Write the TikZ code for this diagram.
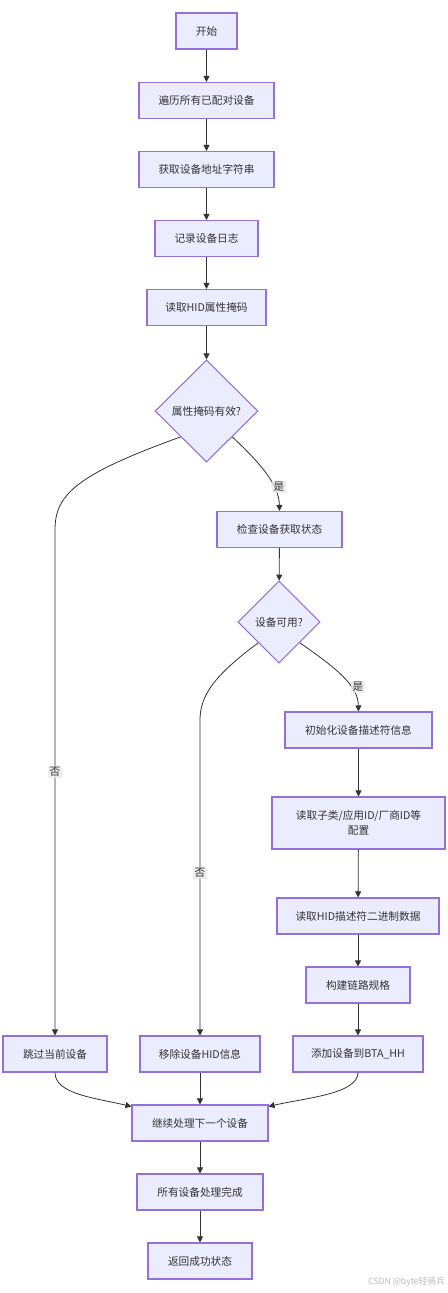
\documentclass[tikz,border=0pt]{standalone}
\usepackage{fontspec}
\setmainfont{Noto Sans CJK SC}
\usetikzlibrary{shapes.geometric,arrows.meta}
\definecolor{boxfill}{HTML}{ECECFF}
\definecolor{boxline}{HTML}{9370DB}
\definecolor{txt}{HTML}{333333}
\definecolor{edge}{HTML}{333333}
\definecolor{lblbg}{HTML}{E8E8E8}
\definecolor{wm}{HTML}{BBBBBB}
\tikzset{
  box/.style={draw=boxline, fill=boxfill, line width=0.8pt, text=txt, font=\fontsize{8}{11.5}\selectfont,
    minimum height={36*0.75pt}, inner sep=0pt, align=center},
  dia/.style={diamond, draw=boxline, fill=boxfill, line width=0.8pt, text=txt, font=\fontsize{8}{10}\selectfont,
    inner sep=0pt, aspect=1},
  conn/.style={draw=edge, line width=0.6pt, -{Triangle[length=4.5pt,width=4.5pt]}},
  lbl/.style={fill=lblbg, fill opacity=0.8, text opacity=1, text=txt, inner sep=1pt, font=\fontsize{8}{10}\selectfont}
}
\begin{document}
\begin{tikzpicture}[x=0.75pt,y=-0.75pt]
\useasboundingbox (0,0) rectangle (448,1293);
% nodes
\node[box, minimum width={61*0.75pt}] (start) at (206.5,31) {开始};
\node[box, minimum width={135*0.75pt}] (iter) at (206.5,100.5) {遍历所有已配对设备};
\node[box, minimum width={135*0.75pt}] (addr) at (206.5,169.5) {获取设备地址字符串};
\node[box, minimum width={103*0.75pt}] (log) at (206.5,238.5) {记录设备日志};
\node[box, minimum width={119*0.75pt}] (mask) at (206.5,307.5) {读取HID属性掩码};
\node[dia, minimum width={103*0.75pt}, minimum height={102*0.75pt}] (d1) at (206.5,411) {属性掩码有效?};
\node[box, minimum width={125*0.75pt}] (check) at (279.5,529.5) {检查设备获取状态};
\node[dia, minimum width={82*0.75pt}, minimum height={82*0.75pt}] (d2) at (279,622) {设备可用?};
\node[box, minimum width={147*0.75pt}] (init) at (358.5,730) {初始化设备描述符信息};
\node[box, minimum width={173*0.75pt}, minimum height={52*0.75pt}] (cfg) at (358.5,823) {读取子类/应用ID/厂商ID等\\配置};
\node[box, minimum width={162*0.75pt}] (desc) at (358,916) {读取HID描述符二进制数据};
\node[box, minimum width={104*0.75pt}] (link) at (358,985) {构建链路规格};
\node[box, minimum width={130*0.75pt}] (add) at (358,1054) {添加设备到BTA\_HH};
\node[box, minimum width={104*0.75pt}] (skip) at (55,1054) {跳过当前设备};
\node[box, minimum width={120*0.75pt}] (rm) at (200,1054) {移除设备HID信息};
\node[box, minimum width={136*0.75pt}] (next) at (200,1123) {继续处理下一个设备};
\node[box, minimum width={126*0.75pt}] (done) at (200,1192) {所有设备处理完成};
\node[box, minimum width={104*0.75pt}] (ret) at (200,1261) {返回成功状态};
% straight connectors
\draw[conn] (start) -- (iter);
\draw[conn] (iter) -- (addr);
\draw[conn] (addr) -- (log);
\draw[conn] (log) -- (mask);
\draw[conn] (mask) -- (d1);
\draw[conn] (check) -- (d2);
\draw[conn] (init) -- (cfg);
\draw[conn] (cfg) -- (desc);
\draw[conn] (desc) -- (link);
\draw[conn] (link) -- (add);
\draw[conn] (rm) -- (next);
\draw[conn] (next) -- (done);
\draw[conn] (done) -- (ret);
% curved connectors
\draw[conn] (d1.-135) .. controls (75,475) and (55,495) .. (55,530) -- (skip.north);
\draw[conn] (d1.-45) .. controls (262,465) and (279,485) .. (check.north);
\draw[conn] (d2.-135) .. controls (215,675) and (200,695) .. (200,720) -- (rm.north);
\draw[conn] (d2.-45) .. controls (336,668) and (358,685) .. (init.north);
\draw[conn] (skip.south) .. controls (55,1094) and (95,1098) .. ([yshift={-2*0.75pt}]next.north west);
\draw[conn] (add.south) .. controls (358,1094) and (305,1098) .. ([yshift={-2*0.75pt}]next.north east);
% labels
\node[lbl] (l1) at (279,487) {是};
\node[lbl] (l2) at (358,687) {是};
\node[lbl] (l3) at (55,772) {否};
\node[lbl] (l4) at (200,873) {否};
% watermark
\node[text=wm, font=\fontsize{6.5}{8}\selectfont, anchor=east, inner sep=0pt] (wmk) at (445,1282) {CSDN @byte轻骑兵};
\end{tikzpicture}
\end{document}
